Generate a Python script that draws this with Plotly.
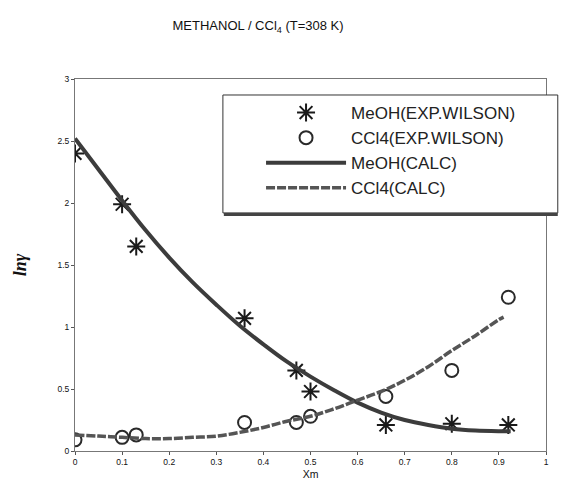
import plotly.graph_objects as go

# Experimental (Wilson) points
x_exp = [0.0, 0.1, 0.13, 0.36, 0.47, 0.5, 0.66, 0.8, 0.92]
meoh_exp = [2.40, 1.99, 1.65, 1.07, 0.65, 0.48, 0.21, 0.22, 0.21]
ccl4_exp = [0.09, 0.11, 0.13, 0.23, 0.23, 0.28, 0.44, 0.65, 1.24]

# Calculated curves
x_calc_meoh = [0.0, 0.05, 0.1, 0.15, 0.2, 0.25, 0.3, 0.35, 0.4, 0.45, 0.5,
               0.55, 0.6, 0.65, 0.7, 0.75, 0.8, 0.85, 0.9, 0.925]
meoh_calc = [2.52, 2.27, 2.02, 1.78, 1.56, 1.36, 1.18, 1.01, 0.86, 0.72, 0.60,
             0.49, 0.39, 0.31, 0.25, 0.21, 0.18, 0.165, 0.16, 0.16]
x_calc_ccl4 = [0.0, 0.05, 0.1, 0.15, 0.2, 0.25, 0.3, 0.35, 0.4, 0.45, 0.5,
               0.55, 0.6, 0.65, 0.7, 0.75, 0.8, 0.85, 0.9, 0.91]
ccl4_calc = [0.13, 0.12, 0.11, 0.10, 0.10, 0.11, 0.12, 0.15, 0.19, 0.24, 0.28,
             0.34, 0.41, 0.48, 0.57, 0.68, 0.81, 0.93, 1.06, 1.08]

x_ticks = [0, 0.1, 0.2, 0.3, 0.4, 0.5, 0.6, 0.7, 0.8, 0.9, 1]
x_tick_text = ["0", "0.1", "0.2", "0.3", "0.4", "0.5", "0.6", "0.7", "0.8", "0.9", "1"]
y_ticks = [0, 0.5, 1, 1.5, 2, 2.5, 3]
y_tick_text = ["0", "0.5", "1", "1.5", "2", "2.5", "3"]

fig = go.Figure()
fig.add_trace(go.Scatter(
    x=x_exp, y=meoh_exp, mode="markers", name="MeOH(EXP.WILSON)",
    marker=dict(symbol="asterisk-open", size=15, color="#1a1a1a",
                line=dict(width=2, color="#1a1a1a"))))
fig.add_trace(go.Scatter(
    x=x_exp, y=ccl4_exp, mode="markers", name="CCl4(EXP.WILSON)",
    marker=dict(symbol="circle-open", size=13, color="#2a2a2a",
                line=dict(width=2, color="#2a2a2a"))))
fig.add_trace(go.Scatter(
    x=x_calc_meoh, y=meoh_calc, mode="lines", name="MeOH(CALC)",
    line=dict(color="#3c3c3c", width=4, shape="spline")))
fig.add_trace(go.Scatter(
    x=x_calc_ccl4, y=ccl4_calc, mode="lines", name="CCl4(CALC)",
    line=dict(color="#555555", width=3.5, shape="spline", dash="9px,2px")))

# legend frame (box + heavier bottom edge like the original)
fig.add_shape(type="rect", xref="paper", yref="paper",
              x0=0.314, x1=1.025, y0=0.640, y1=0.957,
              line=dict(color="#333", width=1), fillcolor="white", layer="above")
fig.add_shape(type="line", xref="paper", yref="paper",
              x0=0.316, x1=1.025, y0=0.636, y1=0.636,
              line=dict(color="#444", width=3), layer="above")

fig.update_layout(
    width=571, height=486,
    margin=dict(l=75, r=25, t=79, b=35),
    paper_bgcolor="white", plot_bgcolor="white",
    hovermode=False,
    font=dict(family="Arial, Liberation Sans, sans-serif", color="#111"),
    title=dict(text="METHANOL / CCl<sub>4</sub> (T=308 K)",
               x=0.452, xanchor="center", y=0.948, yanchor="middle",
               font=dict(size=13, color="#111")),
    showlegend=True,
    legend=dict(x=0.395, y=0.957, xanchor="left", yanchor="top",
                bgcolor="rgba(0,0,0,0)", borderwidth=0,
                font=dict(size=17, color="#222"),
                itemwidth=80, tracegroupgap=0),
    xaxis=dict(range=[0, 1], tickvals=x_ticks, ticktext=x_tick_text,
               showgrid=False, zeroline=False, showline=True, linecolor="#777",
               linewidth=1, mirror=True, ticks="outside", ticklen=3,
               tickcolor="#555", tickfont=dict(size=8.5), automargin=False,
               title=dict(text="Xm", font=dict(size=10.5), standoff=4)),
    yaxis=dict(range=[0, 3], tickvals=y_ticks, ticktext=y_tick_text,
               showgrid=False, zeroline=False, showline=True, linecolor="#777",
               linewidth=1, mirror=True, ticks="outside", ticklen=3,
               tickcolor="#555", tickfont=dict(size=8.5), automargin=False,
               title=dict(text="<b><i>lnγ</i></b>",
                          font=dict(size=18, family="Liberation Serif, serif"),
                          standoff=26)),
)

fig.write_html("out.html", config={"displayModeBar": False},
               post_script="document.body.style.margin='0';")
